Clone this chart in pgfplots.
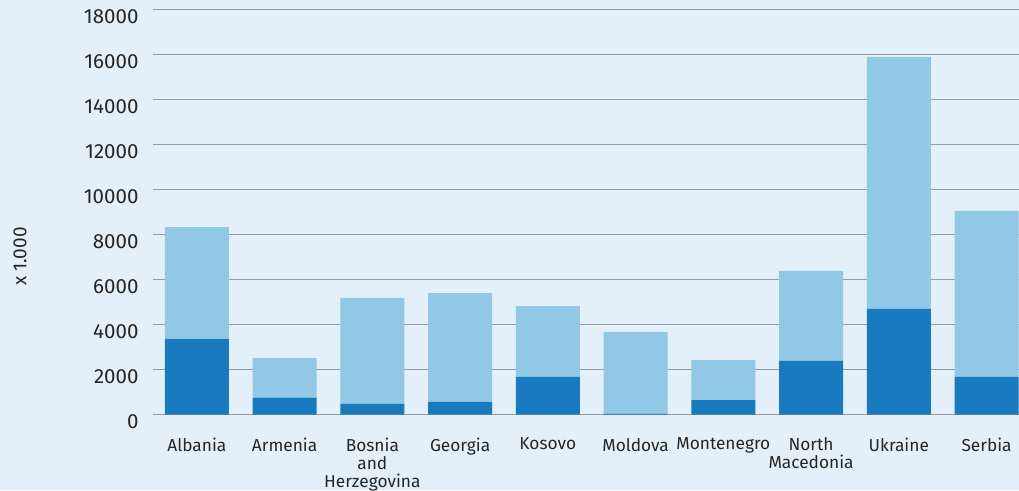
\documentclass[border=0pt]{standalone}
\usepackage{fontspec}
\setmainfont{Fira Sans}
\usepackage{pgfplots}
\pgfplotsset{compat=1.18}
\definecolor{bgblue}{HTML}{E4F0F9}
\definecolor{darkbar}{HTML}{1A7ABF}
\definecolor{lightbar}{HTML}{90C8E6}
\definecolor{gridgray}{HTML}{9A9A9A}

\begin{document}
\begin{tikzpicture}
\fill[bgblue] (-153pt,-75.5pt) rectangle (866pt,414.5pt);
\useasboundingbox (-153pt,-75.5pt) rectangle (866pt,414.5pt);
\begin{axis}[
  scale only axis, width=866pt, height=405pt,
  ybar stacked, bar width=64pt,
  xmin=-0.5, xmax=9.37, ymin=0, ymax=18000,
  ytick distance=2000,
  scaled y ticks=false,
  xtick=data,
  xticklabels={Albania,Armenia,{Bosnia\\and\\Herzegovina},Georgia,Kosovo,Moldova,Montenegro,{North\\Macedonia},Ukraine,Serbia},
  xticklabel style={align=center, font=\fontsize{17.3}{18}\selectfont, text=black!85, yshift=-20pt},
  yticklabel style={font=\fontsize{20.5}{22}\selectfont, text=black!85, xshift=-11pt, yshift=-7pt},
  /pgf/number format/assume math mode=true,
  /pgf/number format/1000 sep={},
  major tick length=0pt,
  axis line style={draw=none},
  ymajorgrids, grid style={gridgray, line width=1.6pt},
  clip=false,
  ylabel={x 1.000},
  ylabel style={at={(axis description cs:-0.1536,0.39)}, anchor=center, font=\fontsize{19}{20}\selectfont, text=black!85},
]
\addplot[fill=darkbar, draw=none] coordinates {(0,3355) (1,747) (2,467) (3,556) (4,1667) (5,30) (6,644) (7,2378) (8,4689) (9,1667)};
\addplot[fill=lightbar, draw=none] coordinates {(0,4978) (1,1764) (2,4711) (3,4844) (4,3155) (5,3637) (6,1778) (7,4000) (8,11201) (9,7378)};
\end{axis}
\end{tikzpicture}
\end{document}
